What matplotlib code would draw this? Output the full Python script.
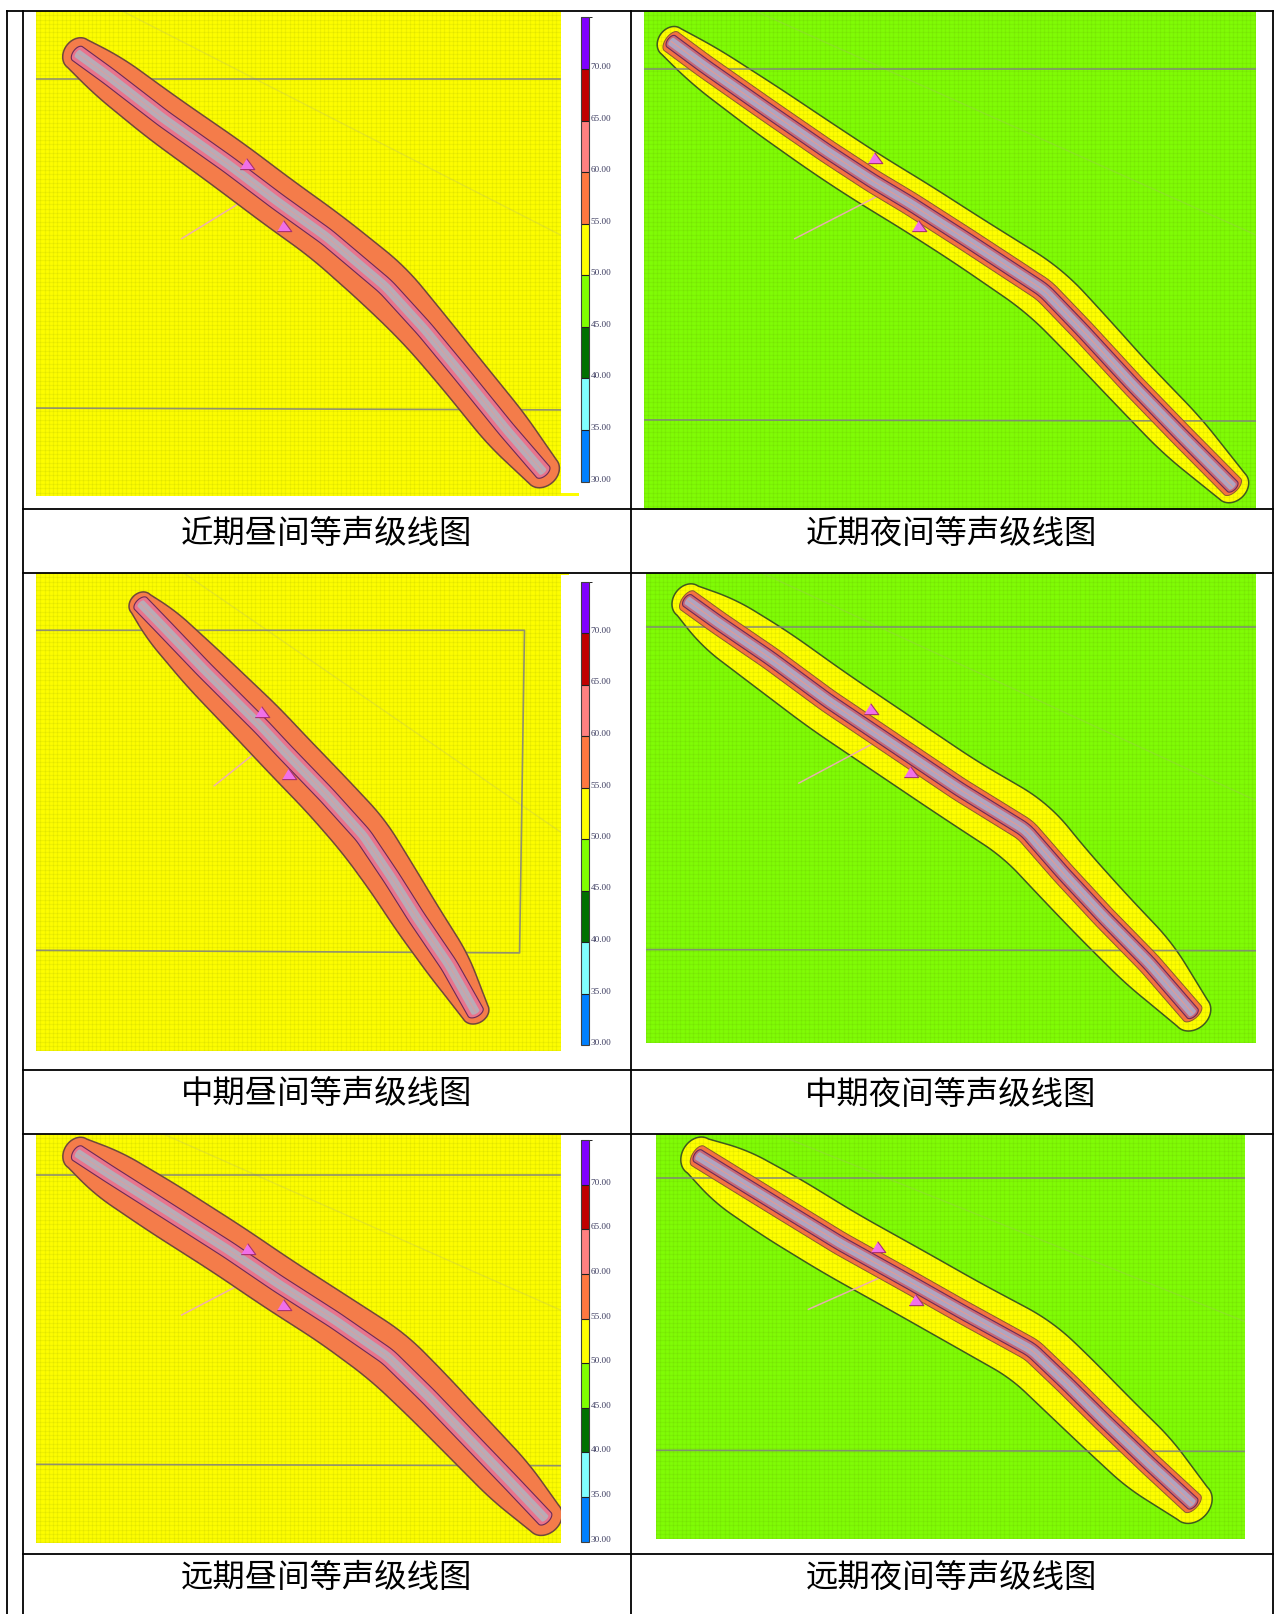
import numpy as np
import matplotlib
matplotlib.use("Agg")
import matplotlib.pyplot as plt
from matplotlib.colors import ListedColormap, BoundaryNorm
from matplotlib.cm import ScalarMappable
from matplotlib.patches import Polygon, Rectangle
from matplotlib.transforms import ScaledTranslation

W, H = 1276, 1614
plt.rcParams['font.family'] = ['Noto Sans CJK SC', 'DejaVu Sans']

# noise levels of the legend (dB)
levels = [30, 35, 40, 45, 50, 55, 60, 65, 70, 75]
level_colors = ['#0080FF', '#80FFFF', '#007000', '#80FF00', '#FFFF00',
                '#FF7840', '#FF8080', '#C00000', '#8000FF']
tick_levels = [30, 35, 40, 45, 50, 55, 60, 65, 70]

captions = ['近期昼间等声级线图', '近期夜间等声级线图',
            '中期昼间等声级线图', '中期夜间等声级线图',
            '远期昼间等声级线图', '远期夜间等声级线图']

# road centre lines and width of the outer contour band, read per panel
road1_x = [190, 265, 400, 560, 680, 800, 945, 1040, 1130, 1240, 1330]
road1_y = [145, 205, 320, 445, 545, 640, 775, 890, 1010, 1160, 1275]
band1_w = [17, 23, 25, 26, 26, 26, 28, 25, 24, 24, 18]

road2_x = [100, 180, 330, 480, 590, 680, 820, 1005, 1100, 1220, 1340, 1462]
road2_y = [112, 178, 295, 410, 490, 550, 650, 785, 895, 1040, 1178, 1315]
band2_w = [16, 22, 25, 26, 26, 26, 26, 28, 27, 26, 26, 18]

road3_x = [345, 395, 500, 640, 695, 800, 890, 960, 1020, 1100, 1165]
road3_y = [118, 175, 296, 450, 515, 635, 745, 860, 965, 1095, 1222]
band3_w = [13, 20, 24, 26, 26, 26, 27, 25, 24, 22, 14]

road4_x = [140, 215, 340, 480, 660, 800, 960, 1050, 1150, 1260, 1365]
road4_y = [110, 170, 265, 380, 515, 620, 730, 845, 965, 1090, 1225]
band4_w = [18, 29, 32, 33, 33, 33, 35, 33, 32, 31, 20]

road5_x = [190, 265, 400, 560, 680, 820, 950, 1050, 1140, 1250, 1335]
road5_y = [100, 160, 265, 390, 490, 600, 710, 830, 945, 1085, 1195]
band5_w = [17, 25, 27, 27, 27, 27, 29, 28, 27, 26, 19]

road6_x = [165, 245, 370, 510, 680, 810, 975, 1060, 1150, 1260, 1365]
road6_y = [108, 169, 264, 370, 487, 578, 690, 790, 900, 1030, 1150]
band6_w = [20, 31, 34, 34, 34, 34, 35, 35, 34, 33, 22]

# background linework per panel
hline1 = [[88, 1373], [213, 213]]
hline2 = [[88, 1373], [1103, 1108]]
diag1 = [[300, 1373], [30, 635]]
spur1 = [[445, 600], [645, 540]]
tri1_x, tri1_y = [605, 697], [442, 612]

hline3 = [[34, 1519], [186, 186]]
hline4 = [[34, 1519], [1135, 1138]]
diag2 = [[305, 1519], [30, 635]]
spur2 = [[400, 610], [645, 525]]
tri2_x, tri2_y = [595, 702], [428, 610]

frame3 = [[88, 1285, 1273, 88], [190, 190, 1062, 1055]]
diag3 = [[450, 1373], [35, 735]]
spur3 = [[525, 655], [610, 495]]
tri3_x, tri3_y = [643, 707], [410, 578]

hline5 = [[39, 1519], [182, 182]]
hline6 = [[39, 1519], [1053, 1056]]
diag4 = [[320, 1519], [35, 650]]
spur4 = [[410, 600], [603, 490]]
tri4_x, tri4_y = [585, 681], [403, 572]

hline7 = [[88, 1373], [166, 166]]
hline8 = [[88, 1373], [1033, 1037]]
diag5 = [[400, 1373], [42, 570]]
spur5 = [[445, 625], [585, 470]]
tri5_x, tri5_y = [607, 697], [388, 555]

hline9 = [[63, 1493], [175, 175]]
hline10 = [[63, 1493], [991, 994]]
diag6 = [[355, 1493], [42, 605]]
spur6 = [[433, 625], [568, 463]]
tri6_x, tri6_y = [602, 695], [382, 541]

DAY = dict(bg='#FDFD00', band='#F47C4A', band_edge='#70483A', inner='#E9748C',
           inner_edge='#6A2A58', road='#B9ABB6', mid='#D8A0A0')
NIGHT = dict(bg='#80FC06', band='#FFFF00', band_edge='#3F5A20', inner='#F47240',
             inner_edge='#6A2A58', road='#B0A4C0', mid='#E89A90')

panels = [
    dict(rect=(36, 561, 11, 496), crop=(0, 0, 2.45, 2.703), style=DAY,
         road=(road1_x, road1_y, band1_w), lines=[hline1, hline2], diag=diag1, spur=spur1, tri=(tri1_x, tri1_y)),
    dict(rect=(644, 1256, 11, 509.5), crop=(630, 0, 2.427, 2.703), style=NIGHT,
         road=(road2_x, road2_y, band2_w), lines=[hline3, hline4], diag=diag2, spur=spur2, tri=(tri2_x, tri2_y)),
    dict(rect=(36, 561, 573, 1050.7), crop=(0, 560, 2.45, 2.703), style=DAY,
         road=(road3_x, road3_y, band3_w), lines=[frame3], diag=diag3, spur=spur3, tri=(tri3_x, tri3_y)),
    dict(rect=(646, 1256, 573, 1042.6), crop=(630, 560, 2.427, 2.703), style=NIGHT,
         road=(road4_x, road4_y, band4_w), lines=[hline5, hline6], diag=diag4, spur=spur4, tri=(tri4_x, tri4_y)),
    dict(rect=(36, 561, 1134, 1543), crop=(0, 1120, 2.45, 3.0), style=DAY,
         road=(road5_x, road5_y, band5_w), lines=[hline7, hline8], diag=diag5, spur=spur5, tri=(tri5_x, tri5_y)),
    dict(rect=(656, 1245, 1134, 1539), crop=(630, 1120, 2.427, 3.0), style=NIGHT,
         road=(road6_x, road6_y, band6_w), lines=[hline9, hline10], diag=diag6, spur=spur6, tri=(tri6_x, tri6_y)),
]
colorbars = [(581, 589, 17.4, 481.5), (581, 589, 581.5, 1045), (581, 589, 1140, 1541.7)]
caption_pos = [(326.5, 534), (951, 534), (327, 1094.5), (951, 1094.5), (326.5, 1578), (951, 1578)]

fig = plt.figure(figsize=(W / 100, H / 100), dpi=100, facecolor='white')


def px_axes(x0, x1, y0, y1, **kw):
    return fig.add_axes([x0 / W, 1 - y1 / H, (x1 - x0) / W, (y1 - y0) / H], **kw)


def smooth(a, k):
    pad = np.r_[2 * a[0] - a[k:0:-1], a, 2 * a[-1] - a[-2:-k - 2:-1]]
    return np.convolve(pad, np.ones(k) / k, 'same')[k:-k]


def ribbon(x, y, hw, k=41, fwd=0.5, n=500):
    """Closed outline around a centre line with a varying half width."""
    x, y, hw = map(lambda a: np.asarray(a, float), (x, y, hw))
    s = np.r_[0, np.cumsum(np.hypot(np.diff(x), np.diff(y)))]
    t = np.linspace(0, s[-1], n)
    X = smooth(np.interp(t, s, x), k)
    Y = smooth(np.interp(t, s, y), k)
    R = smooth(np.interp(t, s, hw), 35)
    dx, dy = np.gradient(X), np.gradient(Y)
    L = np.hypot(dx, dy)
    tx, ty = dx / L, dy / L
    nx, ny = -ty, tx
    a = np.linspace(-np.pi / 2, np.pi / 2, 30)
    end = (X[-1] + fwd * R[-1] * np.cos(a) * tx[-1] - R[-1] * np.sin(a) * nx[-1],
           Y[-1] + fwd * R[-1] * np.cos(a) * ty[-1] - R[-1] * np.sin(a) * ny[-1])
    start = (X[0] - fwd * R[0] * np.cos(a) * tx[0] + R[0] * np.sin(a) * nx[0],
             Y[0] - fwd * R[0] * np.cos(a) * ty[0] + R[0] * np.sin(a) * ny[0])
    px = np.r_[X + nx * R, end[0], (X - nx * R)[::-1], start[0]]
    py = np.r_[Y + ny * R, end[1], (Y - ny * R)[::-1], start[1]]
    return np.c_[px, py], X, Y


tri_marker = [(-1.0, -0.7), (1.0, -0.7), (-0.1, 0.8)]

for p in panels:
    x0, x1, y0, y1 = p['rect']
    ox, oy, sx, sy = p['crop']
    st = p['style']
    ax = px_axes(x0, x1, y0, y1, facecolor=st['bg'])
    ax.set_xlim(x0, x1)
    ax.set_ylim(y1, y0)
    for s in ax.spines.values():
        s.set_visible(False)
    ax.set_xticks(np.arange(x0, x1, 4.3))
    ax.set_yticks(np.arange(y0, y1, 4.3))
    ax.tick_params(length=0, labelbottom=False, labelleft=False)
    ax.grid(True, color='#406000', alpha=0.07, lw=0.9)
    ax.set_axisbelow(False)  # mesh sits above the yellow night band, below the road

    cx = lambda v: ox + np.asarray(v, float) / sx
    cy = lambda v: oy + np.asarray(v, float) / sy

    for ln in p['lines']:
        ax.plot(cx(ln[0]), cy(ln[1]), color='#808080', alpha=0.85, lw=1.2, zorder=2.7)
    ax.plot(cx(p['diag'][0]), cy(p['diag'][1]), color='#B0B080', alpha=0.25, lw=1.0, zorder=2.6)
    ax.plot(cx(p['spur'][0]), cy(p['spur'][1]), color='#F0A8C0', alpha=0.9, lw=1.1, zorder=2.6)

    rx, ry, rw = p['road']
    X, Y = cx(rx), cy(ry)
    night = st is NIGHT
    outer, _, _ = ribbon(X, Y, rw, fwd=0.8)
    ax.add_patch(Polygon(outer, closed=True, fc=st['band'], ec=st['band_edge'], lw=1.1,
                         zorder=2 if night else 3))
    if night:
        orange, _, _ = ribbon(X, Y, np.full_like(X, 11.5), k=11, fwd=0.5)
        ax.add_patch(Polygon(orange, closed=True, fc=st['inner'], ec='#8A5A30', lw=0.7, zorder=3.1))
    core, _, _ = ribbon(X, Y, np.full_like(X, 7.0 if night else 8.5), k=11, fwd=0.55)
    ax.add_patch(Polygon(core, closed=True, fc='#E9748C' if not night else '#C86878',
                         ec=st['inner_edge'], lw=0.8, zorder=3.15))
    road, sx_, sy_ = ribbon(X, Y, np.full_like(X, 4.4), k=11, fwd=0.4)
    ax.add_patch(Polygon(road, closed=True, fc=st['road'], ec='none', zorder=3.2))
    ax.plot(sx_, sy_, color=st['mid'], lw=0.7, zorder=3.3)

    tx_, ty_ = p['tri']
    ax.scatter(cx(tx_), cy(ty_), marker=tri_marker, s=110, facecolor='#F070E8', edgecolor='#A83070',
               linewidth=0.8, zorder=4)

# small stray strips of the pasted screenshots
fig.add_artist(Rectangle((561 / W, 1 - 496 / H), 18 / W, 3.5 / H, transform=fig.transFigure,
                         fc='#FDFD00', ec='none'))
fig.add_artist(Rectangle((561 / W, 1 - 575 / H), 8 / W, 2 / H, transform=fig.transFigure,
                         fc='#FDFD00', ec='none'))

cmap = ListedColormap(level_colors)
norm = BoundaryNorm(levels, cmap.N)
for x0, x1, y0, y1 in colorbars:
    cax = px_axes(x0, x1, y0, y1)
    cb = fig.colorbar(ScalarMappable(norm=norm, cmap=cmap), cax=cax, drawedges=True,
                      ticks=tick_levels, spacing='proportional')
    cb.ax.set_yticklabels([f'{v:.2f}' for v in tick_levels], family='Liberation Serif',
                          fontsize=6.6, color='#3A3A5E')
    cb.ax.tick_params(length=0, pad=1)
    cb.outline.set_edgecolor('#404040')
    cb.outline.set_linewidth(0.8)
    cb.dividers.set_color('#202020')
    cb.dividers.set_linewidth(0.8)
    off = ScaledTranslation(0, 3.0 / 100, fig.dpi_scale_trans)
    for lab in cb.ax.get_yticklabels():
        lab.set_transform(lab.get_transform() + off)

# table rules and captions
ov = fig.add_axes([0, 0, 1, 1], facecolor='none', zorder=10)
ov.set_xlim(0, W)
ov.set_ylim(H, 0)
ov.axis('off')
lw = 1.3
ov.plot([7, 1273], [10.5, 10.5], color='black', lw=lw)
for xv in (7, 23, 631, 1273):
    ov.plot([xv, xv], [10.5, H], color='black', lw=lw)
for yh in (509, 572.5, 1070, 1134, 1554):
    ov.plot([23, 1273], [yh, yh], color='black', lw=lw)
for (xc, yc), t in zip(caption_pos, captions):
    ov.text(xc, yc, t, ha='center', va='center', fontsize=23.3, color='black',
            family=['Noto Sans CJK SC', 'DejaVu Sans'])

fig.savefig('out.png', dpi=100, facecolor='white')
